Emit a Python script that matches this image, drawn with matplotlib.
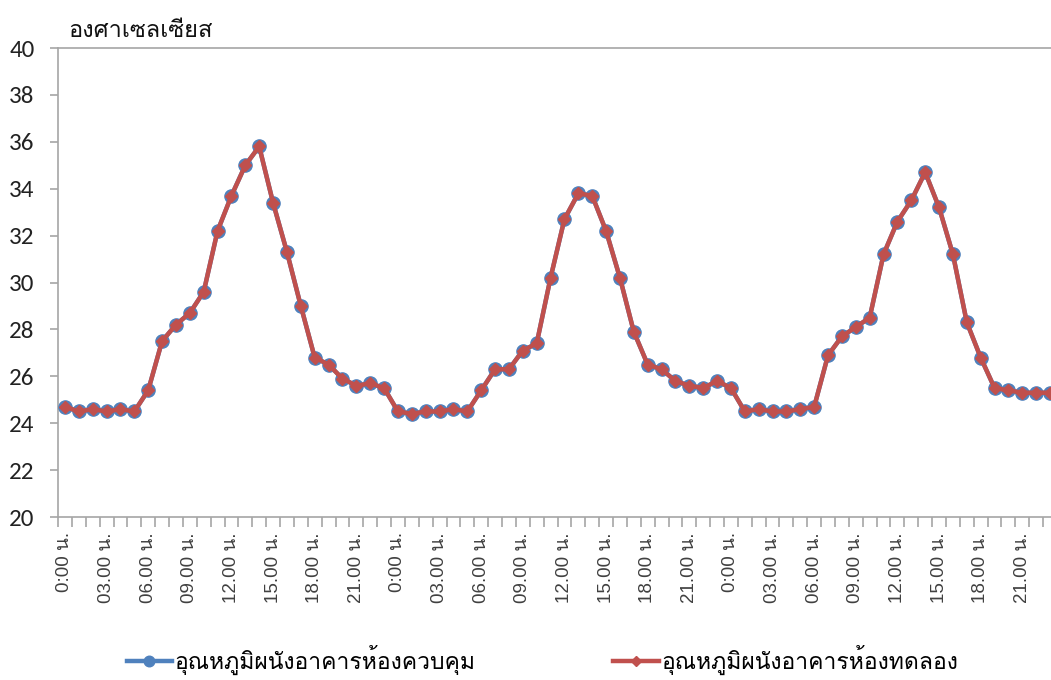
import matplotlib
matplotlib.use("Agg")
import matplotlib.pyplot as plt
from matplotlib import font_manager
from matplotlib.ticker import FixedLocator

# Thai text in Loma (Tahoma-like), with fallbacks
names = {f.name for f in font_manager.fontManager.ttflist}
thai = next((n for n in ["Loma", "IBM Plex Sans Thai Looped", "Sarabun",
                         "Noto Sans Thai"] if n in names), "DejaVu Sans")
num = next((n for n in ["Carlito", "Lato", "Liberation Sans"] if n in names),
           "DejaVu Sans")
plt.rcParams["font.family"] = [thai, "DejaVu Sans"]

# hourly labels for three days
hours = ["0:00 น."] + ["%02d.00 น." % h for h in range(1, 24)]
times = hours * 3

# wall temperature, control room (blue) and test room (red), deg C
control = [24.7, 24.5, 24.6, 24.5, 24.6, 24.5, 25.4, 27.5, 28.2, 28.7, 29.6, 32.2,
           33.7, 35.0, 35.8, 33.4, 31.3, 29.0, 26.8, 26.5, 25.9, 25.6, 25.7, 25.5,
           24.5, 24.4, 24.5, 24.5, 24.6, 24.5, 25.4, 26.3, 26.3, 27.1, 27.4, 30.2,
           32.7, 33.8, 33.7, 32.2, 30.2, 27.9, 26.5, 26.3, 25.8, 25.6, 25.5, 25.8,
           25.5, 24.5, 24.6, 24.5, 24.5, 24.6, 24.7, 26.9, 27.7, 28.1, 28.5, 31.2,
           32.6, 33.5, 34.7, 33.2, 31.2, 28.3, 26.8, 25.5, 25.4, 25.3, 25.3, 25.3]
test = [24.7, 24.5, 24.6, 24.5, 24.6, 24.5, 25.4, 27.5, 28.2, 28.7, 29.6, 32.2,
        33.7, 35.0, 35.8, 33.4, 31.3, 29.0, 26.8, 26.5, 25.9, 25.6, 25.7, 25.5,
        24.5, 24.4, 24.5, 24.5, 24.6, 24.5, 25.4, 26.3, 26.3, 27.1, 27.4, 30.2,
        32.7, 33.8, 33.7, 32.2, 30.2, 27.9, 26.5, 26.3, 25.8, 25.6, 25.5, 25.8,
        25.5, 24.5, 24.6, 24.5, 24.5, 24.6, 24.7, 26.9, 27.7, 28.1, 28.5, 31.2,
        32.6, 33.5, 34.7, 33.2, 31.2, 28.3, 26.8, 25.5, 25.4, 25.3, 25.3, 25.3]

labels = ["อุณหภูมิผนังอาคารห้องควบคุม", "อุณหภูมิผนังอาคารห้องทดลอง"]
ylabel = "องศาเซลเซียส"

fig = plt.figure(figsize=(10.51, 6.8), dpi=100)
# plot area runs a little past the right edge of the figure
ax = fig.add_axes([0.0552, 0.2397, 0.9505, 0.6897])

x = list(range(len(times)))
ax.plot(x, control, color="#4F81BD", lw=3.2, marker="o", ms=9.5,
        mfc="#4F81BD", mec="#4F81BD", label=labels[0], zorder=3)
ax.plot(x, test, color="#C0504D", lw=3.2, marker="D", ms=6.5,
        mfc="#C0504D", mec="#C0504D", label=labels[1], zorder=4)

ax.set_xlim(-0.5, len(times) - 0.5)
ax.set_ylim(20, 40)
ax.set_yticks(range(20, 41, 2))

ax.xaxis.set_major_locator(FixedLocator(x[::3]))
ax.set_xticklabels(times[::3], rotation=90, fontsize=13.5, color="#404040",
                   family=["Liberation Sans", thai])
ax.xaxis.set_minor_locator(FixedLocator([i - 0.5 for i in range(len(times) + 1)]))
ax.tick_params(axis="x", which="major", length=0, pad=11)
ax.tick_params(axis="x", which="minor", length=7, width=1.2, color="#a6a6a6")
ax.tick_params(axis="y", length=6, width=1.2, color="#a6a6a6", pad=11)
for t in ax.get_yticklabels():
    t.set_fontsize(18)
    t.set_family(num)
    t.set_color("#222222")

for side in ["left", "bottom", "top"]:
    ax.spines[side].set_color("#a6a6a6")
    ax.spines[side].set_linewidth(1.2)
ax.spines["right"].set_visible(False)

fig.text(0.065, 0.955, ylabel, fontsize=17, color="#111111", va="center")

fig.legend(loc="center", bbox_to_anchor=(0.516, 0.03), ncol=2, frameon=False,
           fontsize=16.5, handlelength=2.0, handletextpad=0.1, columnspacing=6.0,
           markerscale=0.8)

fig.savefig("out.png", dpi=100)
